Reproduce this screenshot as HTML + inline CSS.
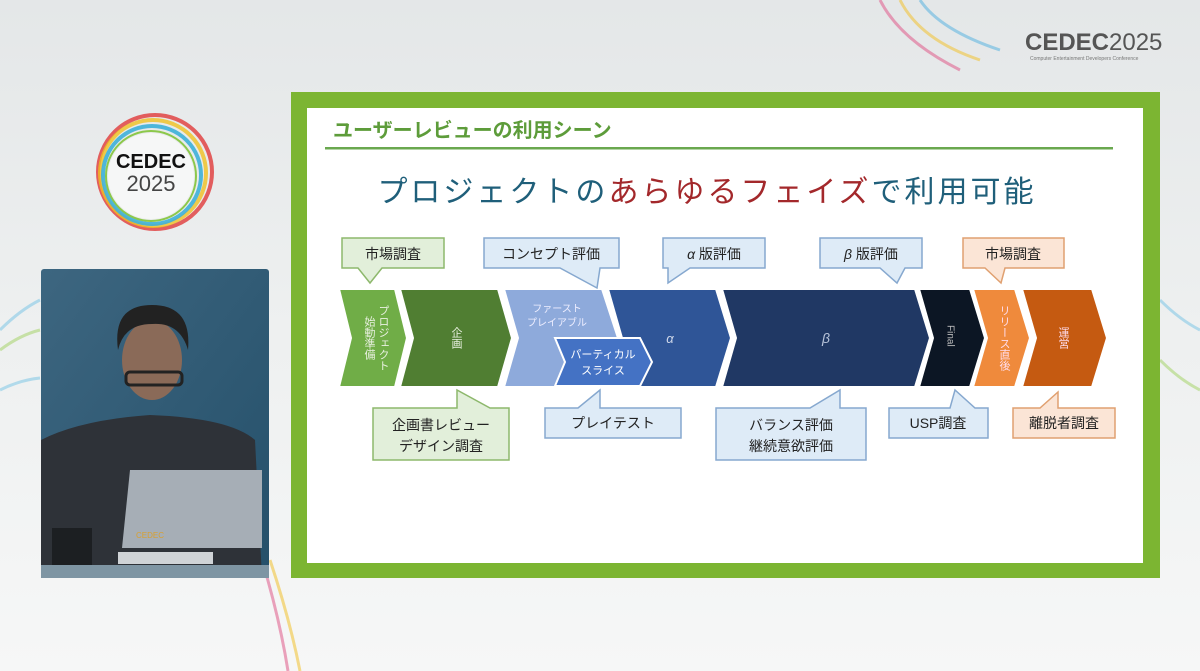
<!DOCTYPE html>
<html><head><meta charset="utf-8"><style>
html,body{margin:0;padding:0;width:1200px;height:671px;overflow:hidden;background:#eceeef;}
svg{display:block}
text{font-family:"Liberation Sans","Noto Sans CJK JP",sans-serif;}
.v{writing-mode:tb;glyph-orientation-vertical:0;}
</style></head><body>
<svg width="1200" height="671" viewBox="0 0 1200 671" xmlns="http://www.w3.org/2000/svg">
<defs>
<linearGradient id="bg" x1="0" y1="0" x2="0" y2="1"><stop offset="0" stop-color="#e4e7e8"/><stop offset="0.5" stop-color="#eef0f0"/><stop offset="1" stop-color="#f6f7f7"/></linearGradient>
<linearGradient id="vid" x1="0" y1="0" x2="1" y2="1"><stop offset="0" stop-color="#3d6680"/><stop offset="1" stop-color="#25506a"/></linearGradient>
</defs>
<rect width="1200" height="671" fill="url(#bg)"/>
<g fill="none" stroke-width="3" opacity="0.55">
<path d="M880 0 Q900 40 960 70" stroke="#e05a8a"/>
<path d="M900 0 Q920 40 980 60" stroke="#f2c230"/>
<path d="M920 0 Q940 30 1000 50" stroke="#5ab4e0"/>
<path d="M0 330 Q20 310 40 300" stroke="#7ec7e6"/>
<path d="M0 350 Q20 335 40 330" stroke="#a6d46a"/>
<path d="M0 390 Q20 380 40 378" stroke="#7ec7e6"/>
<path d="M1160 300 Q1180 320 1200 330" stroke="#7ec7e6"/>
<path d="M1160 360 Q1180 380 1200 390" stroke="#a6d46a"/>
<path d="M270 560 Q290 620 300 671" stroke="#f2c230"/>
<path d="M262 560 Q280 620 288 671" stroke="#e05a8a"/>
</g>
<g>
<circle cx="155" cy="172" r="57" fill="none" stroke="#e03a3a" stroke-width="4" opacity="0.8"/>
<circle cx="153" cy="173" r="53" fill="none" stroke="#f0c020" stroke-width="4" opacity="0.8"/>
<circle cx="152" cy="175" r="49" fill="none" stroke="#3db0d8" stroke-width="4" opacity="0.9"/>
<circle cx="151" cy="176" r="45" fill="none" stroke="#8cc84b" stroke-width="2"/>
<circle cx="151" cy="176" r="43" fill="#f6f7f7"/>
<text x="151" y="168" font-size="20" font-weight="bold" text-anchor="middle" fill="#111">CEDEC</text>
<text x="151" y="191" font-size="22" text-anchor="middle" fill="#444">2025</text>
</g>
<text x="1025" y="50" font-size="24" font-weight="bold" fill="#555">CEDEC<tspan font-weight="normal">2025</tspan></text>
<text x="1030" y="60" font-size="5" fill="#777">Computer Entertainment Developers Conference</text>
<rect x="41" y="269" width="228" height="309" rx="3" fill="url(#vid)"/>
<path d="M41 440 Q80 420 150 415 Q230 418 255 440 L262 578 L41 578 Z" fill="#2e3238"/>
<ellipse cx="152" cy="360" rx="30" ry="40" fill="#8a6a58"/>
<path d="M118 350 Q112 305 152 305 Q192 305 188 350 Q180 322 152 324 Q124 324 118 350Z" fill="#222"/>
<rect x="126" y="372" width="56" height="13" rx="4" fill="none" stroke="#222" stroke-width="3"/>
<path d="M130 470 L262 470 L262 548 L122 548 Z" fill="#a6aeb6"/>
<rect x="118" y="552" width="95" height="12" fill="#cfd3d6"/>
<rect x="52" y="528" width="40" height="38" fill="#1c1f22"/>
<rect x="41" y="565" width="228" height="13" fill="#7e95a3"/>
<text x="136" y="538" font-size="8" fill="#d8a030">CEDEC</text>
<rect x="291" y="92" width="869" height="486" fill="#7cb532"/>
<rect x="307" y="108" width="836" height="455" fill="#ffffff"/>
<text x="333" y="137" font-size="20" fill="#5d9c3a" font-weight="bold">ユーザーレビューの利用シーン</text>
<rect x="325" y="147" width="788" height="2.5" fill="#6aa84f"/>
<text x="707" y="202" font-size="30" text-anchor="middle" letter-spacing="3" fill="#1f5f7a">プロジェクトの<tspan fill="#a3282b">あらゆるフェイズ</tspan>で利用可能</text>
<g stroke="#fff" stroke-width="2">
<polygon points="339,289 395,289 407,338 395,387 339,387 351,338" fill="#70ad47"/>
<polygon points="400,289 498,289 512,338 498,387 400,387 413,338" fill="#507e32"/>
<polygon points="504,289 602,289 618,338 602,387 504,387 518,338" fill="#8eaadb"/>
<polygon points="608,289 716,289 731,338 716,387 608,387 622,338" fill="#2f5597"/>
<polygon points="555,338 640,338 652,362 640,386 555,386 565,362" fill="#4472c4"/>
<polygon points="722,289 915,289 930,338 915,387 722,387 736,338" fill="#203864"/>
<polygon points="919,289 970,289 985,338 970,387 919,387 933,338" fill="#0c1624"/>
<polygon points="973,289 1015,289 1030,338 1015,387 973,387 987,338" fill="#ef8a3c"/>
<polygon points="1022,289 1092,289 1107,338 1092,387 1022,387 1036,338" fill="#c55a11"/>
</g>
<g fill="#fff" font-size="10" text-anchor="middle">
<text x="557" y="312" fill="#eef">ファースト</text>
<text x="557" y="326" fill="#eef">プレイアブル</text>
<text x="603" y="358" font-size="11">パーティカル</text>
<text x="603" y="374" font-size="11">スライス</text>
<text x="670" y="343" font-size="13" font-style="italic" fill="#cfd8ea">α</text>
<text x="826" y="343" font-size="14" font-style="italic" fill="#b8c4da">β</text>
</g>
<g fill="#e8f0e0" font-size="11">
<text class="v" x="383" y="305">プロジェクト</text>
<text class="v" x="369" y="316">始動準備</text>
<text class="v" x="456" y="327">企画</text>
<text class="v" x="950" y="325" fill="#bbb" font-size="10">Final</text>
<text class="v" x="1004" y="305" fill="#fde">リリース直後</text>
<text class="v" x="1063" y="327" fill="#fde">運営</text>
</g>
<g stroke-width="1.5" font-size="14" text-anchor="middle" fill="#222">
<path d="M342 238 H444 V268 H382 L370 283 L358 268 H342 Z" fill="#e2efda" stroke="#8db86c"/>
<path d="M484 238 H619 V268 H600 L597 288 L560 268 H484 Z" fill="#deebf7" stroke="#86a8cf"/>
<path d="M663 238 H765 V268 H690 L668 283 L668 268 H663 Z" fill="#deebf7" stroke="#86a8cf"/>
<path d="M820 238 H922 V268 H905 L897 283 L880 268 H820 Z" fill="#deebf7" stroke="#86a8cf"/>
<path d="M963 238 H1064 V268 H1005 L1001 283 L985 268 H963 Z" fill="#fbe5d6" stroke="#e0a070"/>
<path d="M373 408 H457 L457 390 L490 408 H509 V460 H373 Z" fill="#e2efda" stroke="#8db86c"/>
<path d="M545 408 H578 L600 390 L600 408 H681 V438 H545 Z" fill="#deebf7" stroke="#86a8cf"/>
<path d="M716 408 H810 L840 390 L840 408 H866 V460 H716 Z" fill="#deebf7" stroke="#86a8cf"/>
<path d="M889 408 H950 L955 390 L975 408 H988 V438 H889 Z" fill="#deebf7" stroke="#86a8cf"/>
<path d="M1013 408 H1040 L1058 392 L1058 408 H1115 V438 H1013 Z" fill="#fbe5d6" stroke="#e0a070"/>
</g>
<g font-size="14" text-anchor="middle" fill="#222">
<text x="393" y="259">市場調査</text>
<text x="551" y="259">コンセプト評価</text>
<text x="714" y="259"><tspan font-style="italic">α</tspan> 版評価</text>
<text x="871" y="259"><tspan font-style="italic">β</tspan> 版評価</text>
<text x="1013" y="259">市場調査</text>
<text x="441" y="430">企画書レビュー</text>
<text x="441" y="451">デザイン調査</text>
<text x="613" y="428">プレイテスト</text>
<text x="791" y="430">バランス評価</text>
<text x="791" y="451">継続意欲評価</text>
<text x="938" y="428">USP調査</text>
<text x="1064" y="428">離脱者調査</text>
</g>
</svg>
</body></html>
